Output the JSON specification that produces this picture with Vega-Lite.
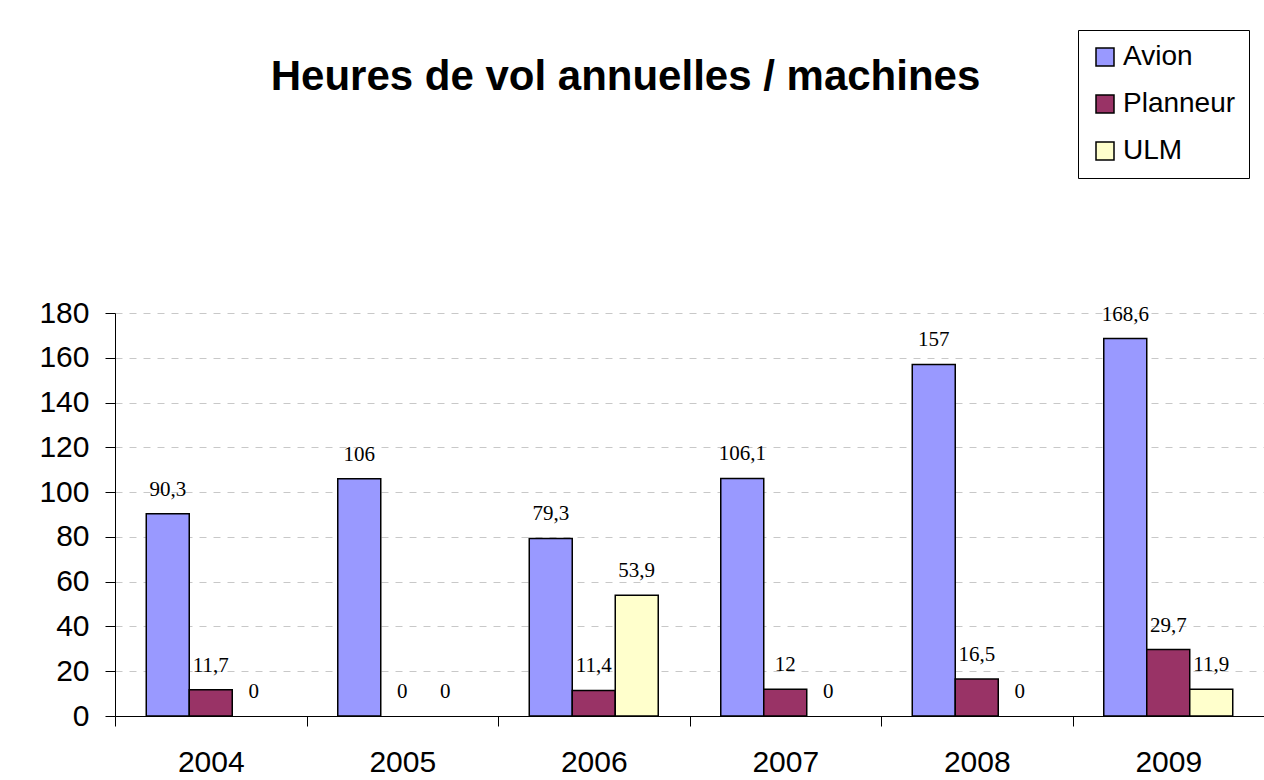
{
  "$schema": "https://vega.github.io/schema/vega-lite/v6.json",
  "width": 1149,
  "height": 403,
  "autosize": {"type": "none"},
  "padding": {"left": 115, "top": 313, "right": 0, "bottom": 64},
  "background": "white",
  "title": {
    "text": "Heures de vol annuelles / machines",
    "font": "Liberation Sans",
    "fontSize": 42,
    "fontWeight": "bold",
    "color": "black",
    "anchor": "middle",
    "offset": 0,
    "dy": 69,
    "dx": -64
  },
  "data": {
    "values": [
      {"year": "2004", "machine": "Avion", "hours": 90.3},
      {"year": "2004", "machine": "Planneur", "hours": 11.7},
      {"year": "2004", "machine": "ULM", "hours": 0},
      {"year": "2005", "machine": "Avion", "hours": 106},
      {"year": "2005", "machine": "Planneur", "hours": 0},
      {"year": "2005", "machine": "ULM", "hours": 0},
      {"year": "2006", "machine": "Avion", "hours": 79.3},
      {"year": "2006", "machine": "Planneur", "hours": 11.4},
      {"year": "2006", "machine": "ULM", "hours": 53.9},
      {"year": "2007", "machine": "Avion", "hours": 106.1},
      {"year": "2007", "machine": "Planneur", "hours": 12},
      {"year": "2007", "machine": "ULM", "hours": 0},
      {"year": "2008", "machine": "Avion", "hours": 157},
      {"year": "2008", "machine": "Planneur", "hours": 16.5},
      {"year": "2008", "machine": "ULM", "hours": 0},
      {"year": "2009", "machine": "Avion", "hours": 168.6},
      {"year": "2009", "machine": "Planneur", "hours": 29.7},
      {"year": "2009", "machine": "ULM", "hours": 11.9}
    ]
  },
  "encoding": {
    "x": {
      "field": "year",
      "type": "nominal",
      "scale": {"paddingInner": 0, "paddingOuter": 0},
      "axis": {
        "title": null,
        "labelAngle": 0,
        "tickBand": "extent",
        "tickSize": 10,
        "tickColor": "black",
        "domainColor": "black",
        "labelFont": "Liberation Sans",
        "labelFontSize": 30,
        "labelColor": "black",
        "labelPadding": 21,
        "grid": false
      }
    },
    "xOffset": {
      "field": "machine",
      "type": "nominal",
      "sort": ["Avion", "Planneur", "ULM"],
      "scale": {"paddingInner": 0, "paddingOuter": 0.727}
    },
    "y": {
      "field": "hours",
      "type": "quantitative",
      "scale": {"domain": [0, 180], "nice": false},
      "axis": {
        "title": null,
        "values": [0, 20, 40, 60, 80, 100, 120, 140, 160, 180],
        "format": "d",
        "grid": true,
        "gridDash": [7, 7],
        "gridColor": "#c8c8c8",
        "gridWidth": 1,
        "domainColor": "black",
        "tickColor": "black",
        "tickSize": 10,
        "labelFont": "Liberation Sans",
        "labelFontSize": 30,
        "labelColor": "black",
        "labelPadding": 16
      }
    }
  },
  "layer": [
    {
      "mark": {"type": "bar", "stroke": "black", "strokeWidth": 1.5},
      "encoding": {
        "color": {
          "field": "machine",
          "type": "nominal",
          "scale": {"domain": ["Avion", "Planneur", "ULM"], "range": ["#9999FF", "#993366", "#FFFFCC"]},
          "legend": {
            "title": null,
            "orient": "none",
            "legendX": 963,
            "legendY": -283,
            "symbolType": "square",
            "symbolSize": 324,
            "symbolStrokeColor": "black",
            "symbolStrokeWidth": 1.5,
            "labelFont": "Liberation Sans",
            "labelFontSize": 28,
            "labelColor": "black",
            "labelOffset": 4,
            "rowPadding": 19,
            "padding": 13,
            "strokeColor": "black",
            "fillColor": "white"
          }
        },
        "strokeOpacity": {"condition": {"test": "datum.hours > 0", "value": 1}, "value": 0}
      }
    },
    {
      "mark": {"type": "text", "font": "Liberation Serif", "fontSize": 21, "baseline": "alphabetic", "dy": -18, "color": "black"},
      "encoding": {
        "text": {"field": "hours", "type": "quantitative", "format": ".1~f"}
      }
    }
  ],
  "config": {
    "locale": {"number": {"decimal": ",", "thousands": " ", "grouping": [3], "currency": ["", " €"]}},
    "view": {"stroke": null}
  }
}
